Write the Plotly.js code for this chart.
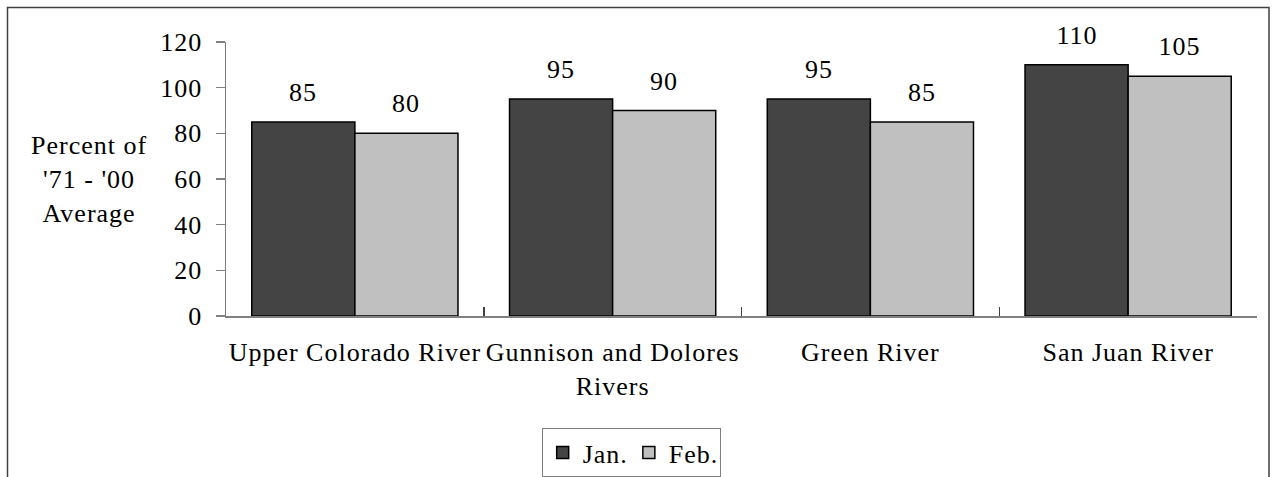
<!DOCTYPE html>
<html>
<head>
<meta charset="utf-8">
<script src="https://cdn.plot.ly/plotly-3.0.1.min.js"></script>
<style>
  #chart text { font-family: serif !important; letter-spacing: 1px; }
</style>
</head>
<body style="margin:0;background:#fff">
<div id="chart" style="position:relative;width:1274px;height:477px;overflow:hidden"></div>
<script>
const categories = ["Upper Colorado River", "Gunnison and Dolores<br>Rivers", "Green River", "San Juan River"];
const janValues = [85, 95, 95, 110];
const febValues = [80, 90, 85, 105];
const seriesNames = ["Jan.", "Feb."];
const yTickValues = [0, 20, 40, 60, 80, 100, 120];
const yTitle = "Percent of<br>'71 - '00<br>Average";

const FONT = "serif";

const traces = [
  { type: "bar", name: seriesNames[0], x: categories, y: janValues,
    marker: { color: "#444444", line: { color: "#000000", width: 1.5 } } },
  { type: "bar", name: seriesNames[1], x: categories, y: febValues,
    marker: { color: "#c0c0c0", line: { color: "#000000", width: 1.5 } } }
];

const annotations = [];
[janValues, febValues].forEach((vals, s) => {
  vals.forEach((v, i) => {
    annotations.push({
      xref: "x", yref: "y", x: i + (s === 0 ? -0.2 : 0.2), y: v,
      text: String(v), showarrow: false, xanchor: "center", yanchor: "bottom",
      yshift: 13, font: { family: FONT, size: 26, color: "black" }
    });
  });
});
annotations.push({
  xref: "paper", yref: "paper", x: -0.1324, y: 0.50, xanchor: "center", yanchor: "middle",
  text: yTitle, showarrow: false, align: "center",
  font: { family: FONT, size: 26, color: "black" }
});

const shapes = [{
  type: "rect", xref: "paper", yref: "paper",
  x0: (7.5 - 226) / 1031, x1: (1269 - 226) / 1031, y0: -1, y1: (316 - 7.5) / 274,
  line: { color: "#404040", width: 1.5 }, fillcolor: "rgba(0,0,0,0)", layer: "above"
}];

const layout = {
  width: 1274, height: 477,
  margin: { l: 226, r: 17, t: 42, b: 161, autoexpand: false },
  paper_bgcolor: "white", plot_bgcolor: "white",
  font: { family: FONT, size: 26, color: "black" },
  barmode: "group", bargap: 0.2, bargroupgap: 0,
  showlegend: true,
  legend: {
    orientation: "h", x: 0.393, y: -0.409, xanchor: "center", yanchor: "top",
    bordercolor: "#808080", borderwidth: 1, bgcolor: "white",
    font: { family: FONT, size: 26, color: "black" }
  },
  xaxis: {
    type: "category", showline: true, linecolor: "#808080", linewidth: 1.5,
    ticks: "inside", tickson: "boundaries", ticklen: 9, tickcolor: "#404040", tickwidth: 1.5,
    showgrid: false, zeroline: false, tickangle: 0, ticklabelstandoff: 12, automargin: false,
    tickfont: { family: FONT, size: 26, color: "black" }
  },
  yaxis: {
    range: [0, 120], tickvals: yTickValues, showline: true, linecolor: "#808080", linewidth: 1.5,
    ticks: "outside", ticklen: 9, tickcolor: "#808080", tickwidth: 1.5,
    showgrid: false, zeroline: false, ticklabelstandoff: 8, automargin: false,
    tickfont: { family: FONT, size: 26, color: "black" }
  },
  shapes: shapes,
  annotations: annotations
};

const config = { displayModeBar: false, staticPlot: true };
Plotly.newPlot("chart", traces, layout, config);
if (document.fonts && document.fonts.ready) {
  document.fonts.ready.then(() => Plotly.newPlot("chart", traces, layout, config));
}
</script>
</body>
</html>
